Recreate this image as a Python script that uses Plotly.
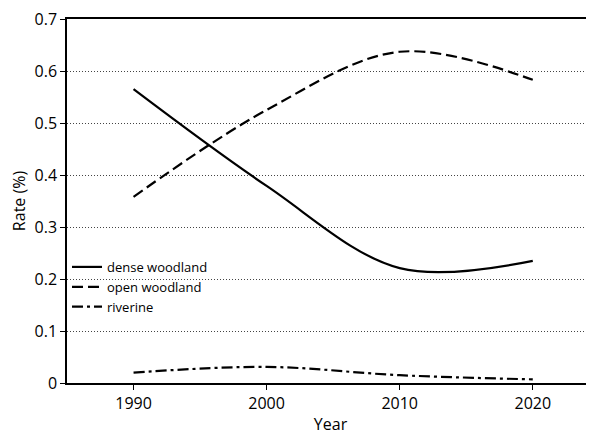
import plotly.graph_objects as go

years = [1990, 2000, 2010, 2020]
dense = [0.565, 0.379, 0.221, 0.235]
open_w = [0.358, 0.525, 0.637, 0.583]
riverine = [0.020, 0.031, 0.015, 0.007]
y_ticks = [0, 0.1, 0.2, 0.3, 0.4, 0.5, 0.6, 0.7]
y_labels = ["0", "0.1", "0.2", "0.3", "0.4", "0.5", "0.6", "0.7"]

FONT = "Open Sans"
fig = go.Figure()
fig.add_trace(go.Scatter(x=years, y=dense, name="dense woodland", mode="lines",
                         line=dict(color="black", width=2.2, shape="spline", smoothing=1.0)))
fig.add_trace(go.Scatter(x=years, y=open_w, name="open woodland", mode="lines",
                         line=dict(color="black", width=2.2, dash="11px,5px", shape="spline", smoothing=1.0)))
fig.add_trace(go.Scatter(x=years, y=riverine, name="riverine", mode="lines",
                         line=dict(color="black", width=2.2, dash="11px,4px,3px,4px", shape="spline", smoothing=1.0)))

# page body has an 8px margin, so the figure is offset by 8px right and down
fig.update_layout(
    width=586, height=427,
    margin=dict(l=59, r=0, t=11, b=52, autoexpand=False),
    paper_bgcolor="white", plot_bgcolor="white",
    font=dict(family=FONT, color="black", size=16),
    showlegend=True,
    legend=dict(x=0.0, y=0.36, xanchor="left", yanchor="top", bgcolor="rgba(0,0,0,0)",
                font=dict(size=13, family=FONT), tracegroupgap=0, itemwidth=30),
    xaxis=dict(range=[1985, 2024.6], tickvals=years, ticktext=[str(y) for y in years],
               automargin=False, mirror=True,
               showgrid=False, zeroline=False, showline=True, linecolor="black", linewidth=1.5,
               ticks="outside", ticklen=5, tickcolor="black",
               title=dict(text="Year", font=dict(size=16), standoff=6)),
    yaxis=dict(range=[0, 0.7], tickvals=y_ticks, ticktext=y_labels,
               automargin=False, ticklabeloverflow="allow",
               showgrid=True, gridcolor="#444", griddash="1px,2px", gridwidth=1,
               zeroline=False, showline=True, linecolor="black", linewidth=1.5,
               ticks="outside", ticklen=5, tickcolor="black",
               title=dict(text="Rate (%)", font=dict(size=16), standoff=8)),
)
fig.write_html("out.html")
